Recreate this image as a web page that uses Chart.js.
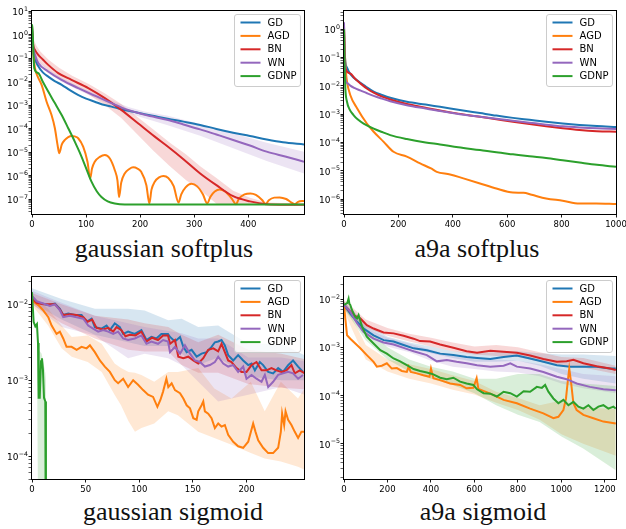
<!DOCTYPE html>
<html>
<head>
<meta charset="utf-8">
<script src="https://cdn.jsdelivr.net/npm/chart.js@4.4.0/dist/chart.umd.min.js"></script>
<style>
  body { margin: 0; background: #fff; width: 626px; height: 529px; position: relative; overflow: hidden; }
  canvas { position: absolute; }
  .cap { position: absolute; width: 260px; text-align: center; white-space: nowrap;
         font: 26px "Liberation Serif", serif; line-height: 26px; color: #111; }
</style>
</head>
<body>
<canvas id="c1" width="313" height="232" style="left:0;top:0"></canvas>
<canvas id="c2" width="313" height="232" style="left:313px;top:0"></canvas>
<canvas id="c3" width="313" height="232" style="left:0;top:265px"></canvas>
<canvas id="c4" width="313" height="232" style="left:313px;top:265px"></canvas>
<div class="cap" style="left:34px;top:236px">gaussian softplus</div>
<div class="cap" style="left:347px;top:236px">a9a softplus</div>
<div class="cap" style="left:43px;top:499px">gaussian sigmoid</div>
<div class="cap" style="left:353px;top:499px">a9a sigmoid</div>
<script>
// methods and colours (legend order)
const methods = ['GD', 'AGD', 'BN', 'WN', 'GDNP'];
const colors = ['#1f77b4', '#ff7f0e', '#d62728', '#9467bd', '#2ca02c'];

// every point is [iteration, log10(loss)]
// bands are [iteration, log10(upper), log10(lower)]

// ---- gaussian softplus ----
const gspXTicks = [0, 100, 200, 300, 400];
const gspYExp = [1, 0, -1, -2, -3, -4, -5, -6, -7];
const gspGD = [[0,0.35],[2,-0.6],[5,-1.0],[12,-1.35],[20,-1.6],[30,-1.78],[42,-1.97],[55,-2.13],[70,-2.36],[85,-2.56],[100,-2.72],[116,-2.85],[130,-2.97],[147,-3.06],[160,-3.14],[178,-3.24],[190,-3.29],[208,-3.38],[230,-3.48],[251,-3.58],[280,-3.70],[311,-3.84],[341,-4.01],[372,-4.17],[403,-4.31],[434,-4.46],[464,-4.58],[503,-4.67]];
const gspAGD = [[0,0.4],[3,-0.9],[5.5,-1.42],[10,-1.75],[17.8,-2.13],[27,-2.85],[36,-3.41],[42.3,-3.98],[47.3,-4.7],[50.4,-5.05],[55,-4.68],[60.8,-4.48],[67,-4.36],[73,-4.31],[79,-4.33],[85.4,-4.41],[94.6,-4.77],[102.6,-5.41],[107.6,-6.12],[111,-5.7],[116,-5.41],[125.4,-5.2],[134.7,-5.12],[144,-5.27],[153,-5.76],[158,-6.2],[161,-6.91],[165,-6.3],[171.5,-5.91],[180,-5.72],[187,-5.65],[195,-5.7],[202,-5.84],[211.5,-6.41],[217,-7.19],[221,-6.6],[227,-6.26],[235,-6.08],[243,-6.02],[252,-6.1],[262,-6.45],[271,-7.15],[276,-6.8],[284,-6.5],[295,-6.35],[305,-6.45],[316,-6.8],[324,-7.19],[330,-6.9],[338,-6.68],[347,-6.59],[357,-6.68],[370,-7.0],[377,-7.22],[383,-6.97],[393,-6.8],[404,-6.76],[414,-6.82],[426,-7.05],[432,-7.22],[438,-7.05],[448,-6.94],[458,-6.93],[470,-7.0],[480,-7.15],[486,-7.22],[492,-7.12],[503,-7.08]];
const gspBN = [[0,0.2],[2,-0.4],[5.5,-0.64],[11.6,-0.85],[20,-1.05],[30,-1.28],[48.5,-1.63],[73,-1.92],[104,-2.27],[134.7,-2.7],[165,-3.2],[196,-3.77],[227,-4.34],[251.5,-4.77],[280,-5.3],[311,-5.91],[341,-6.41],[372,-6.88],[403,-7.1],[434,-7.22],[470,-7.24],[503,-7.24]];
const gspWN = [[0,0.2],[2,-0.5],[5.5,-0.85],[11.6,-1.2],[30,-1.56],[54.6,-1.92],[85.4,-2.27],[116,-2.59],[147,-2.91],[177.7,-3.2],[208.5,-3.41],[251.5,-3.63],[280,-3.82],[311,-4.03],[341,-4.25],[372,-4.48],[403,-4.72],[434,-4.98],[470,-5.2],[503,-5.41]];
const gspGDNP = [[0,0.45],[1,0.2],[4.2,-1.42],[11.6,-1.63],[20,-2.0],[30,-2.42],[42,-2.9],[54.6,-3.41],[67,-3.98],[79.3,-4.56],[88,-5.0],[97.8,-5.55],[110,-6.26],[120,-6.68],[128.4,-6.91],[140,-7.1],[153,-7.19],[171.6,-7.23],[503,-7.23]];
const gspBandBN = [[3,-0.2,-0.75],[8,-0.45,-1.0],[15,-0.7,-1.2],[30,-1.05,-1.5],[50,-1.4,-1.85],[75,-1.75,-2.15],[105,-2.1,-2.55],[135,-2.5,-3.0],[165,-2.95,-3.55],[195,-3.5,-4.25],[225,-4.05,-4.95],[255,-4.6,-5.6],[285,-5.1,-6.2],[311,-5.6,-6.62],[341,-6.1,-7.2],[372,-6.65,-7.24],[403,-6.95,-7.25],[434,-7.15,-7.25],[503,-7.2,-7.25]];
const gspBandWN = [[2,-0.4,-0.6],[12,-1.1,-1.3],[30,-1.48,-1.64],[55,-1.84,-2.0],[85,-2.19,-2.35],[116,-2.5,-2.68],[147,-2.8,-3.02],[178,-3.08,-3.33],[208,-3.27,-3.56],[251,-3.45,-3.85],[311,-3.8,-4.3],[372,-4.2,-4.84],[434,-4.6,-5.38],[503,-4.98,-5.91]];

// ---- a9a softplus ----
const aspXTicks = [0, 200, 400, 600, 800, 1000];
const aspYExp = [0, -1, -2, -3, -4, -5, -6];
const aspGD = [[0,0.1],[2,-0.7],[5,-1.15],[11,-1.35],[25,-1.6],[48,-1.8],[80,-2.02],[109,-2.2],[140,-2.32],[170,-2.42],[231,-2.56],[300,-2.66],[353,-2.74],[420,-2.84],[500,-2.96],[560,-3.05],[621,-3.13],[682,-3.2],[743,-3.27],[804,-3.33],[866,-3.38],[930,-3.42],[1000,-3.45]];
const aspAGD = [[0,0.05],[3,-0.8],[6,-1.4],[11,-1.85],[23,-2.32],[48,-2.79],[84,-3.33],[109,-3.62],[145,-3.97],[182,-4.33],[231,-4.5],[280,-4.74],[320,-4.92],[341,-5.04],[390,-5.13],[439,-5.27],[500,-5.45],[560,-5.63],[621,-5.77],[660,-5.78],[690,-5.85],[743,-5.98],[804,-6.06],[866,-6.16],[927,-6.16],[1000,-6.18]];
const aspBN = [[0,0.15],[2,-0.9],[5,-1.38],[23,-1.56],[40,-1.74],[60,-1.91],[85,-2.1],[109,-2.24],[140,-2.38],[170,-2.48],[231,-2.64],[300,-2.77],[353,-2.87],[420,-2.98],[500,-3.09],[560,-3.18],[621,-3.27],[682,-3.35],[743,-3.43],[804,-3.5],[866,-3.56],[930,-3.6],[1000,-3.62]];
const aspWN = [[0,0.25],[2,-1.0],[5,-1.75],[12,-1.9],[23,-1.99],[40,-2.08],[60,-2.16],[85,-2.26],[109,-2.35],[140,-2.45],[170,-2.54],[231,-2.68],[300,-2.8],[353,-2.89],[420,-2.99],[500,-3.09],[560,-3.16],[621,-3.23],[682,-3.3],[743,-3.37],[804,-3.43],[866,-3.47],[930,-3.5],[1000,-3.52]];
const aspGDNP = [[0,0.0],[2,-1.2],[5,-2.1],[11,-2.56],[20,-2.82],[35,-3.03],[50,-3.18],[72,-3.33],[109,-3.51],[140,-3.63],[170,-3.74],[231,-3.88],[300,-4.0],[353,-4.07],[420,-4.17],[500,-4.27],[560,-4.35],[621,-4.42],[682,-4.49],[743,-4.55],[804,-4.63],[866,-4.71],[930,-4.79],[1000,-4.86]];

// ---- gaussian sigmoid ----
const gsgXTicks = [0, 50, 100, 150, 200];
const gsgYExp = [-2, -3, -4];
const gsgGD = [[0,-1.9],[2.8,-1.97],[9,-1.99],[15.2,-2.01],[21.4,-1.99],[26,-2.06],[29.1,-2.14],[33.8,-2.12],[40,-2.14],[46.2,-2.14],[50.9,-2.23],[55.5,-2.19],[58.6,-2.3],[64.8,-2.32],[69.5,-2.28],[72.6,-2.34],[77.2,-2.25],[81.9,-2.3],[85,-2.39],[89.6,-2.36],[95.8,-2.39],[102,-2.34],[106.7,-2.47],[111.3,-2.43],[116,-2.45],[120.6,-2.39],[126.8,-2.39],[128.7,-2.43],[133.3,-2.49],[138,-2.43],[141.1,-2.56],[144.2,-2.63],[148.8,-2.6],[153.5,-2.69],[158.1,-2.65],[162.8,-2.63],[167.4,-2.56],[170.5,-2.5],[173.6,-2.49],[176.7,-2.47],[179.8,-2.54],[182.9,-2.67],[187.6,-2.74],[192.2,-2.67],[196.9,-2.74],[201.6,-2.8],[204.7,-2.78],[207.8,-2.87],[212.4,-2.76],[215.5,-2.8],[220.2,-2.89],[224.8,-2.91],[229.5,-2.84],[234.1,-2.89],[238.8,-2.8],[243.4,-2.74],[248.1,-2.82],[252.7,-2.89]];
const gsgAGD = [[0,-1.95],[5.9,-2.01],[10.5,-2.08],[15.2,-2.17],[18.3,-2.28],[22.9,-2.39],[26,-2.36],[29.1,-2.45],[32.2,-2.56],[36.9,-2.56],[41.6,-2.6],[46.2,-2.56],[50.9,-2.58],[54,-2.54],[58.6,-2.63],[63.3,-2.74],[67.9,-2.82],[72.6,-2.89],[77.2,-3.0],[80.3,-3.04],[85,-2.98],[89.6,-3.09],[94.3,-3.0],[98.9,-3.06],[103.6,-3.13],[108.2,-3.19],[112.9,-3.22],[116.9,-3.35],[119.7,-3.26],[122.2,-3.15],[125.3,-2.98],[127.1,-3.09],[130.2,-3.04],[133.3,-3.13],[138,-3.17],[141.1,-3.24],[144.2,-3.33],[147.3,-3.37],[150.4,-3.5],[153.5,-3.52],[155,-3.41],[158.1,-3.33],[159.7,-3.28],[161.2,-3.41],[164.3,-3.44],[167.4,-3.5],[170.5,-3.63],[173.6,-3.57],[176.7,-3.61],[179.8,-3.59],[182.9,-3.72],[187.6,-3.81],[192.2,-3.87],[196.9,-3.89],[201.6,-3.81],[204.1,-3.68],[206.2,-3.57],[208.4,-3.68],[210.9,-3.79],[215.5,-3.89],[220.2,-3.96],[224.8,-3.96],[229.5,-3.89],[232,-3.68],[233.2,-3.44],[235.1,-3.59],[236.4,-3.41],[238.8,-3.52],[241.9,-3.59],[245,-3.68],[248.1,-3.76],[251.2,-3.68],[254.3,-3.68]];
const gsgBN = [[0,-1.92],[4.3,-1.98],[10.5,-2.0],[16.7,-2.0],[21.4,-2.0],[26,-2.07],[29.1,-2.14],[35.3,-2.13],[41.6,-2.14],[47.8,-2.17],[51.8,-2.23],[56.1,-2.2],[60.2,-2.31],[66.4,-2.33],[71,-2.31],[75.7,-2.36],[78.8,-2.3],[83.4,-2.34],[87.1,-2.42],[91.2,-2.4],[96.4,-2.41],[102,-2.36],[106.7,-2.49],[112,-2.44],[117.5,-2.47],[122.2,-2.41],[126.8,-2.41],[128.7,-2.52],[133.3,-2.47],[136.4,-2.69],[141.1,-2.71],[145.7,-2.69],[150.4,-2.74],[155,-2.78],[159.7,-2.71],[164.3,-2.6],[169,-2.58],[173.6,-2.62],[176.7,-2.52],[179.8,-2.63],[182.9,-2.74],[186,-2.76],[190.7,-2.84],[195.3,-2.89],[200,-2.89],[204.7,-2.8],[209.3,-2.76],[214,-2.87],[218.6,-2.87],[223.3,-2.84],[227.9,-2.87],[232.6,-2.89],[237.2,-2.87],[241.9,-2.8],[245,-2.91],[249.6,-2.87],[254.3,-2.91]];
const gsgWN = [[0,-1.89],[4.3,-1.96],[10.5,-1.99],[16.7,-2.02],[21.4,-2.0],[26,-2.08],[29.1,-2.17],[35.3,-2.15],[41.6,-2.17],[47.8,-2.19],[52.4,-2.28],[57,-2.32],[61.7,-2.36],[66.4,-2.34],[71,-2.36],[75.7,-2.39],[80.3,-2.36],[85,-2.45],[89.6,-2.47],[95.8,-2.45],[102,-2.41],[106.7,-2.52],[111.3,-2.49],[117.5,-2.52],[122.2,-2.47],[126.8,-2.49],[128.7,-2.63],[133.3,-2.56],[138,-2.65],[142.6,-2.54],[147.3,-2.65],[151.9,-2.74],[156.6,-2.76],[161.2,-2.82],[165.9,-2.8],[170.5,-2.76],[173.6,-2.69],[178.3,-2.78],[182.9,-2.82],[187.6,-2.8],[192.2,-2.89],[196.9,-2.82],[200,-2.98],[204.7,-2.93],[209.3,-2.98],[214,-3.02],[217.1,-2.93],[220.2,-3.09],[224.8,-3.02],[229.5,-2.93],[234.1,-2.91],[238.8,-2.89],[243.4,-2.91],[248.1,-2.98],[252.7,-2.93]];
const gsgGDNP = [[0,-1.84],[1.5,-2.23],[3.1,-2.29],[4.6,-2.26],[5.6,-2.51],[6.2,-3.23],[7.2,-3.23],[8.4,-2.75],[9.3,-2.71],[10.2,-2.86],[11.2,-3.23],[12.4,-3.28],[13,-6]];
const gsgBandGD = [[0,-1.79,-1.98],[27.6,-1.93,-2.2],[58.6,-2.06,-2.4],[89.6,-2.06,-2.5],[105,-2.08,-2.55],[127,-2.21,-2.55],[139.5,-2.19,-2.65],[155,-2.3,-2.8],[173.6,-2.28,-2.7],[201.6,-2.52,-2.95],[232.6,-2.52,-3.0],[254,-2.67,-3.0]];
const gsgBandBN = [[0,-1.85,-2.0],[27.6,-2.0,-2.25],[58.6,-2.15,-2.45],[89.6,-2.2,-2.6],[105,-2.25,-2.62],[127,-2.3,-2.62],[139.5,-2.4,-2.8],[155,-2.5,-2.9],[173.6,-2.4,-2.9],[201.6,-2.6,-3.05],[232.6,-2.65,-3.1],[254,-2.72,-3.12]];
const gsgBandWN = [[0,-1.82,-2.0],[27.6,-1.98,-2.3],[58.6,-2.15,-2.41],[89.6,-2.25,-2.71],[105,-2.3,-2.65],[127,-2.35,-2.71],[139.5,-2.38,-2.8],[155,-2.45,-3.02],[173.6,-2.45,-3.28],[201.6,-2.7,-3.19],[232.6,-2.7,-3.09],[254,-2.75,-3.19]];
const gsgBandAGD = [[0,-1.88,-2.01],[15,-2.06,-2.28],[27.6,-2.28,-2.58],[37,-2.43,-2.69],[52,-2.41,-2.76],[65,-2.52,-2.89],[77,-2.78,-3.19],[83,-2.84,-3.33],[90,-2.89,-3.54],[96,-2.9,-3.68],[102,-2.93,-3.63],[114,-3.02,-3.57],[127,-2.89,-3.41],[136,-2.89,-3.46],[155,-2.84,-3.68],[170,-3.11,-3.76],[186,-3.24,-3.85],[204,-3.02,-3.96],[217,-3.41,-4.03],[232,-3.02,-4.07],[248,-3.24,-4.14],[254,-3.11,-4.18]];
const gsgBandGDNP = [[4.6,-2.3,-2.5],[6.2,-2.6,-6],[9,-2.65,-6],[12.4,-2.9,-6],[13,-3.0,-6]];

// ---- a9a sigmoid ----
const asgXTicks = [0, 200, 400, 600, 800, 1000, 1200];
const asgYExp = [-2, -3, -4, -5];
const asgGD = [[0,-2.15],[14,-2.2],[29,-2.3],[60,-2.47],[90,-2.61],[136,-2.75],[182,-2.85],[228,-2.88],[274,-2.95],[320,-3.02],[381,-3.06],[442,-3.13],[503,-3.16],[564,-3.2],[612,-3.22],[673,-3.24],[734,-3.2],[795,-3.17],[856,-3.23],[917,-3.3],[979,-3.37],[1040,-3.4],[1101,-3.4],[1162,-3.4],[1223,-3.44],[1250,-3.44]];
const asgAGD = [[0,-2.12],[6,-2.4],[14,-2.75],[29,-2.82],[52,-2.92],[75,-3.02],[105,-3.16],[136,-3.3],[151,-3.4],[174,-3.38],[197,-3.33],[220,-3.44],[243,-3.43],[266,-3.49],[289,-3.51],[297,-3.4],[307,-3.51],[335,-3.54],[365,-3.58],[393,-3.61],[400,-3.44],[411,-3.64],[442,-3.68],[488,-3.75],[534,-3.78],[564,-3.85],[595,-3.84],[610,-3.64],[618,-3.86],[673,-3.96],[734,-4.09],[795,-4.16],[856,-4.27],[917,-4.37],[963,-4.47],[986,-4.44],[1009,-4.3],[1021,-4.06],[1029,-3.71],[1036,-3.44],[1044,-3.71],[1055,-4.16],[1070,-4.3],[1101,-4.4],[1147,-4.47],[1193,-4.54],[1250,-4.58]];
const asgBN = [[0,-2.12],[14,-2.19],[44,-2.33],[75,-2.4],[105,-2.54],[136,-2.61],[182,-2.69],[228,-2.71],[274,-2.76],[320,-2.82],[350,-2.87],[396,-2.88],[442,-2.94],[503,-3.01],[564,-3.08],[612,-3.11],[673,-3.07],[734,-3.09],[795,-3.11],[856,-3.17],[917,-3.24],[979,-3.3],[1024,-3.29],[1055,-3.26],[1101,-3.33],[1162,-3.39],[1223,-3.44],[1250,-3.47]];
const asgWN = [[0,-2.12],[29,-2.26],[60,-2.5],[90,-2.68],[136,-2.82],[182,-2.9],[228,-2.94],[274,-3.01],[320,-3.08],[381,-3.16],[427,-3.29],[473,-3.26],[518,-3.3],[564,-3.33],[612,-3.37],[673,-3.4],[734,-3.38],[765,-3.33],[795,-3.4],[856,-3.44],[917,-3.51],[979,-3.61],[1024,-3.66],[1070,-3.75],[1131,-3.82],[1193,-3.87],[1250,-3.89]];
const asgGDNP = [[0,-2.12],[15,-2.08],[21,-1.99],[25,-2.1],[29,-2.12],[37,-2.23],[52,-2.37],[60,-2.4],[67,-2.33],[83,-2.57],[105,-2.78],[136,-2.92],[167,-3.06],[197,-3.13],[228,-3.23],[258,-3.29],[289,-3.37],[320,-3.45],[350,-3.49],[381,-3.52],[411,-3.56],[442,-3.63],[473,-3.66],[503,-3.63],[534,-3.71],[564,-3.75],[595,-3.78],[612,-3.87],[642,-3.95],[673,-3.96],[703,-4.02],[734,-3.92],[765,-3.95],[795,-4.02],[826,-3.91],[856,-3.92],[887,-3.82],[910,-3.84],[925,-3.78],[940,-3.92],[963,-4.06],[986,-4.16],[1009,-4.09],[1032,-4.2],[1055,-4.13],[1078,-4.23],[1101,-4.27],[1124,-4.2],[1147,-4.3],[1170,-4.23],[1193,-4.2],[1216,-4.27],[1239,-4.23],[1250,-4.27]];
const asgBandGD = [[0,-2.05,-2.2],[100,-2.5,-2.68],[200,-2.78,-2.9],[300,-2.9,-3.02],[400,-2.98,-3.12],[500,-3.08,-3.22],[600,-3.12,-3.3],[700,-3.1,-3.3],[800,-3.08,-3.28],[900,-3.12,-3.38],[1000,-3.15,-3.55],[1100,-3.15,-3.65],[1250,-3.18,-3.75]];
const asgBandBN = [[0,-2.02,-2.2],[100,-2.42,-2.6],[200,-2.6,-2.76],[300,-2.72,-2.88],[400,-2.8,-2.98],[500,-2.9,-3.08],[600,-2.98,-3.15],[700,-2.95,-3.18],[800,-3.0,-3.2],[900,-3.1,-3.3],[1000,-3.2,-3.38],[1100,-3.22,-3.42],[1250,-3.38,-3.55]];
const asgBandWN = [[0,-2.05,-2.2],[100,-2.6,-2.75],[200,-2.8,-2.98],[300,-2.92,-3.1],[400,-3.05,-3.28],[500,-3.18,-3.4],[600,-3.25,-3.45],[700,-3.25,-3.5],[800,-3.28,-3.52],[900,-3.35,-3.6],[1000,-3.45,-3.75],[1100,-3.55,-3.85],[1250,-3.6,-3.95]];
const asgBandGDNP = [[0,-2.05,-2.2],[100,-2.6,-2.85],[200,-3.0,-3.25],[300,-3.25,-3.5],[400,-3.4,-3.65],[500,-3.5,-3.78],[600,-3.65,-3.95],[700,-3.65,-4.2],[800,-3.55,-4.4],[900,-3.55,-4.55],[1000,-3.7,-4.85],[1100,-3.75,-5.1],[1250,-3.8,-5.55]];
const asgBandAGD = [[0,-2.05,-2.25],[100,-2.95,-3.25],[200,-3.25,-3.5],[300,-3.35,-3.65],[400,-3.45,-3.75],[500,-3.58,-3.88],[600,-3.7,-3.98],[700,-3.92,-4.15],[800,-4.05,-4.3],[900,-4.2,-4.5],[1000,-4.1,-4.8],[1100,-4.25,-5.0],[1250,-4.28,-5.25]];

// ---------- helpers ----------
function fade(hex, a) {
  const n = parseInt(hex.slice(1), 16);
  return `rgba(${n >> 16},${(n >> 8) & 255},${n & 255},${a})`;
}

function toPoints(arr, col) {
  return arr.map(p => ({ x: p[0], y: Math.pow(10, p[col]) }));
}

// lines + shaded bands
function makeDatasets(lines, bands, smooth) {
  const ds = [];
  lines.forEach((arr, i) => {
    ds.push({
      label: methods[i],
      data: toPoints(arr, 1),
      borderColor: colors[i],
      borderWidth: 2,
      pointRadius: 0,
      fill: false,
      tension: 0,
      cubicInterpolationMode: smooth ? 'monotone' : 'default',
      order: 5 - i
    });
  });
  bands.forEach(([i, rows]) => {
    ds.push({
      label: '', data: toPoints(rows, 1), borderColor: 'transparent', borderWidth: 0,
      pointRadius: 0, backgroundColor: fade(colors[i], 0.18), fill: '+1', order: 20 - i
    });
    ds.push({
      label: '', data: toPoints(rows, 2), borderColor: 'transparent', borderWidth: 0,
      pointRadius: 0, fill: false, order: 20 - i
    });
  });
  return ds;
}

// decade ticks are major, 2..9 are minor
function logTicks(min, max) {
  const out = [];
  for (let e = Math.floor(Math.log10(min)); e <= Math.ceil(Math.log10(max)); e++) {
    for (let k = 1; k <= 9; k++) {
      const v = k * Math.pow(10, e);
      if (v >= min && v <= max) out.push({ value: v, major: k === 1 });
    }
  }
  return out;
}

function yAxis(min, max, width) {
  return {
    type: 'logarithmic', min: min, max: max,
    afterBuildTicks: axis => { axis.ticks = logTicks(min, max); },
    afterFit: s => { s.width = width; s.paddingTop = 0; s.paddingBottom = 0; },
    ticks: { autoSkip: false, padding: 2, callback: () => '' },
    grid: {
      drawOnChartArea: false, tickLength: 3.5, color: '#000',
      lineWidth: c => (c.tick && c.tick.major) ? 0.9 : 0.6
    },
    border: { display: false }
  };
}

function xAxis(max, ticks) {
  return {
    type: 'linear', min: 0, max: max,
    afterBuildTicks: axis => { axis.ticks = ticks.map(v => ({ value: v })); },
    afterFit: s => { s.height = 18; s.paddingLeft = 0; s.paddingRight = 0; },
    ticks: { autoSkip: false, maxRotation: 0, padding: 2, color: '#000',
             font: { family: 'DejaVu Sans', size: 8.5 }, callback: v => String(v) },
    grid: { drawOnChartArea: false, tickLength: 3.5, color: '#000', lineWidth: 0.9 },
    border: { display: false }
  };
}

// y tick labels as 10 with a raised exponent, placed with the y scale
function decadeLabels(exps) {
  return {
    id: 'decadeLabels',
    afterDraw(chart) {
      const s = chart.scales.y, ctx = chart.ctx;
      const right = chart.chartArea.left - 4;
      ctx.save();
      ctx.fillStyle = '#000';
      ctx.textAlign = 'right';
      ctx.textBaseline = 'alphabetic';
      exps.forEach(e => {
        const y = s.getPixelForValue(Math.pow(10, e));
        const expText = String(e).replace('-', '\u2212');
        ctx.font = '6.3px "DejaVu Sans"';
        const ew = ctx.measureText(expText).width;
        ctx.fillText(expText, right, y - 0.3);
        ctx.font = '9px "DejaVu Sans"';
        ctx.fillText('10', right - ew - 0.3, y + 4);
      });
      ctx.restore();
    }
  };
}

// axes frame (all four spines)
const framePlugin = {
  id: 'frame',
  afterDatasetsDraw(chart) {
    const a = chart.chartArea, ctx = chart.ctx;
    ctx.save();
    ctx.strokeStyle = '#000';
    ctx.lineWidth = 1;
    ctx.strokeRect(Math.round(a.left) - 0.5, Math.round(a.top) - 0.5,
                   Math.round(a.right - a.left) + 1, Math.round(a.bottom - a.top) + 1);
    ctx.restore();
  }
};

// matplotlib-like legend in the upper right of the axes
const legendPlugin = {
  id: 'boxLegend',
  afterDraw(chart) {
    const a = chart.chartArea, ctx = chart.ctx;
    ctx.save();
    ctx.font = '10px "DejaVu Sans"';
    const tw = Math.max(...methods.map(m => ctx.measureText(m).width));
    const w = 33 + tw + 4, h = 72;
    const x0 = Math.round(a.right - 4 - w) + 0.5, y0 = Math.round(a.top + 3) + 0.5;
    ctx.beginPath();
    if (ctx.roundRect) ctx.roundRect(x0, y0, w, h, 2.5); else ctx.rect(x0, y0, w, h);
    ctx.fillStyle = 'rgba(255,255,255,0.8)';
    ctx.fill();
    ctx.strokeStyle = '#cccccc';
    ctx.lineWidth = 1;
    ctx.stroke();
    methods.forEach((m, i) => {
      const y = y0 + 8 + i * 13.4;
      ctx.strokeStyle = colors[i];
      ctx.lineWidth = 2;
      ctx.beginPath();
      ctx.moveTo(x0 + 6, y);
      ctx.lineTo(x0 + 26, y);
      ctx.stroke();
      ctx.fillStyle = '#000';
      ctx.textBaseline = 'middle';
      ctx.fillText(m, x0 + 33, y + 0.5);
    });
    ctx.restore();
  }
};

function drawPanel(id, datasets, xScale, yScale, exps, padding) {
  return new Chart(document.getElementById(id), {
    type: 'line',
    data: { datasets: datasets },
    options: {
      responsive: false,
      animation: false,
      devicePixelRatio: 1,
      events: [],
      layout: { padding: padding },
      plugins: { legend: { display: false }, tooltip: { enabled: false } },
      scales: { x: xScale, y: yScale }
    },
    plugins: [framePlugin, decadeLabels(exps), legendPlugin]
  });
}

// ---------- panels ----------
drawPanel('c1',
  makeDatasets([gspGD, gspAGD, gspBN, gspWN, gspGDNP], [[2, gspBandBN], [3, gspBandWN]], true),
  xAxis(503, gspXTicks), yAxis(2.3e-8, 10.4, 32), gspYExp,
  { left: 0, right: 9, top: 11, bottom: 0 });

drawPanel('c2',
  makeDatasets([aspGD, aspAGD, aspBN, aspWN, aspGDNP], [], true),
  xAxis(1000, aspXTicks), yAxis(2.95e-7, 4.47, 31), aspYExp,
  { left: 0, right: 10, top: 11, bottom: 0 });

drawPanel('c3',
  makeDatasets([gsgGD, gsgAGD, gsgBN, gsgWN, gsgGDNP],
    [[0, gsgBandGD], [1, gsgBandAGD], [2, gsgBandBN], [3, gsgBandWN], [4, gsgBandGDNP]], false),
  xAxis(253.6, gsgXTicks), yAxis(5.0e-5, 0.0229, 32), gsgYExp,
  { left: 0, right: 9, top: 12, bottom: 0 });

drawPanel('c4',
  makeDatasets([asgGD, asgAGD, asgBN, asgWN, asgGDNP],
    [[0, asgBandGD], [1, asgBandAGD], [2, asgBandBN], [3, asgBandWN], [4, asgBandGDNP]], false),
  xAxis(1251, asgXTicks), yAxis(1.86e-6, 0.0288, 31), asgYExp,
  { left: 0, right: 10, top: 12, bottom: 0 });
</script>
</body>
</html>
